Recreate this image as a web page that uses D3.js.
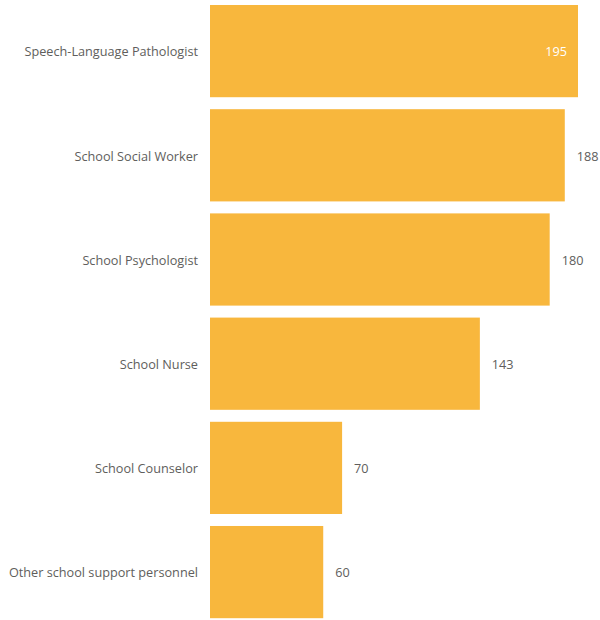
<!DOCTYPE html>
<html><head><meta charset="utf-8">
<script src="https://cdn.jsdelivr.net/npm/d3@7"></script>
<style>body{margin:0;background:#fff;}svg{display:block;}</style>
</head><body>
<svg id="c" width="600" height="620"></svg>
<script>
const categories = ["Speech-Language Pathologist","School Social Worker","School Psychologist","School Nurse","School Counselor","Other school support personnel"];
const values = [195,188,180,143,70,60];

const svg = d3.select("#c");
const font = "'Open Sans', 'Noto Sans', sans-serif";
const x = d3.scaleLinear().domain([0,195]).range([210,578]);
const y = d3.scaleBand().domain(categories).range([5,618.2]).paddingInner(0.115).paddingOuter(0);
const data = categories.map((c,i)=>({c, v: values[i]}));

svg.selectAll("rect.bar").data(data).join("rect")
  .attr("class","bar")
  .attr("x", x(0)).attr("y", d=>y(d.c))
  .attr("width", d=>x(d.v)-x(0)).attr("height", y.bandwidth())
  .attr("fill","#F8B73D");

svg.selectAll("text.cat").data(data).join("text")
  .attr("class","cat")
  .attr("x", 198).attr("y", d=>y(d.c)+y.bandwidth()/2)
  .attr("dy","0.42em").attr("text-anchor","end")
  .attr("font-family", font).attr("font-size", 12.7).attr("fill","#605E5C")
  .text(d=>d.c);

svg.selectAll("text.val").data(data).join("text")
  .attr("class","val")
  .attr("x", (d,i)=> i===0 ? x(d.v)-11 : x(d.v)+12)
  .attr("y", d=>y(d.c)+y.bandwidth()/2)
  .attr("dy","0.42em").attr("text-anchor", (d,i)=> i===0 ? "end" : "start")
  .attr("font-family", font).attr("font-size", 12.7)
  .attr("fill", (d,i)=> i===0 ? "#FFFFFF" : "#605E5C")
  .text(d=>d.v);
</script>
</body></html>
